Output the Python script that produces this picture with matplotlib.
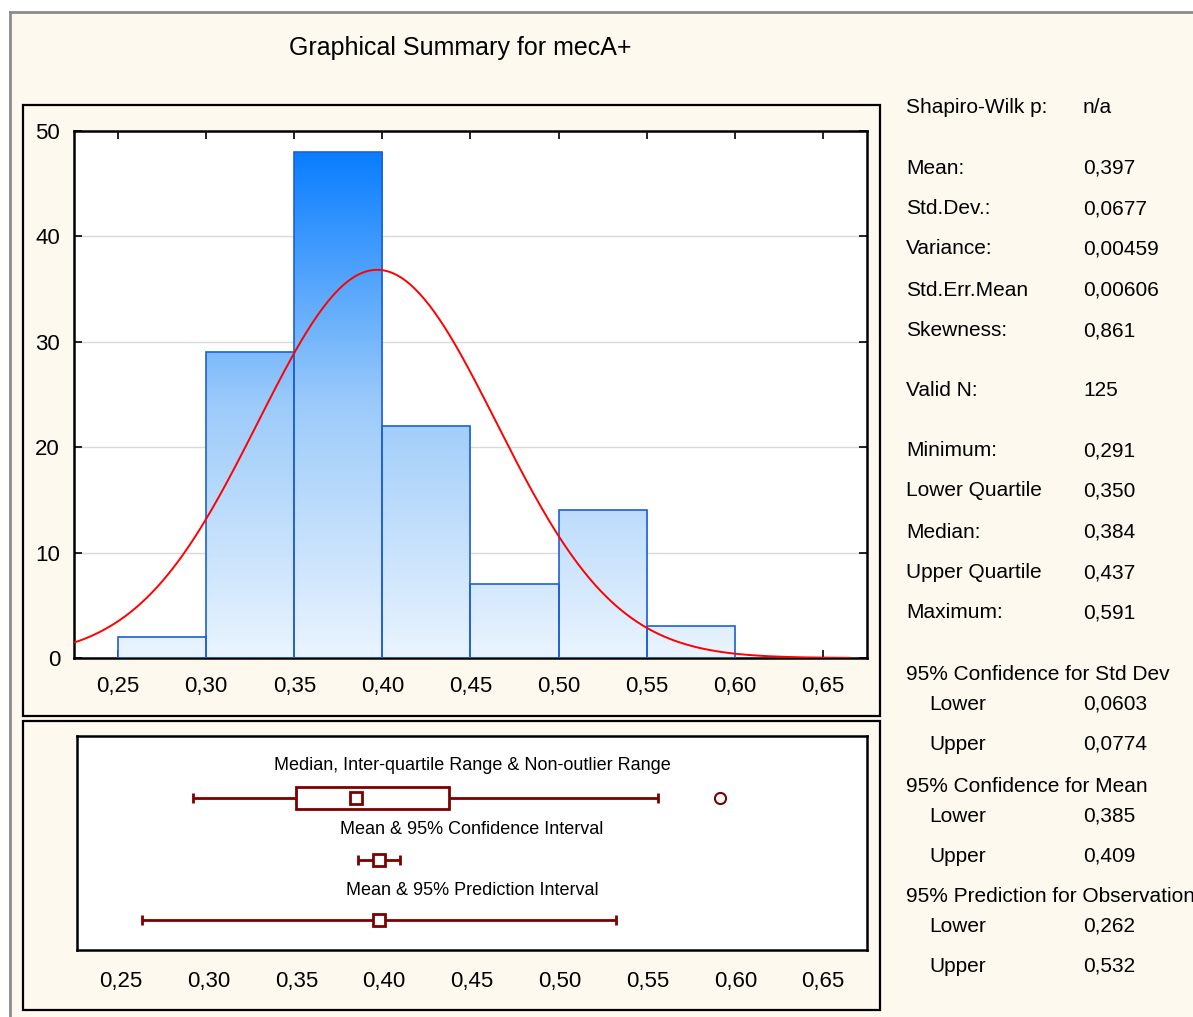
import numpy as np
import matplotlib
matplotlib.use("Agg")
import matplotlib.pyplot as plt
from matplotlib.colors import LinearSegmentedColormap
from matplotlib.patches import Rectangle
from matplotlib.lines import Line2D
from matplotlib.ticker import FuncFormatter

plt.rcParams['font.family'] = ['Liberation Sans', 'DejaVu Sans']

# histogram of mecA+ values
bin_edges = [0.25, 0.30, 0.35, 0.40, 0.45, 0.50, 0.55, 0.60]
counts = [2, 29, 48, 22, 7, 14, 3]

# descriptive statistics
n_valid = 125
mean, std_dev, variance, se_mean, skewness = 0.397, 0.0677, 0.00459, 0.00606, 0.861
minimum, q1, median, q3, maximum = 0.291, 0.350, 0.384, 0.437, 0.591
whisker_hi = 0.556          # largest non-outlier value
outliers = [0.591]
sd_ci = (0.0603, 0.0774)
mean_ci = (0.385, 0.409)
pred_int = (0.262, 0.532)

W, H = 1193, 1017
BG = '#fdf9ef'
DARKRED = '#7d0000'


def fx(px):
    return px / W


def fy(py):
    return 1 - py / H


def comma(v, nd):
    return f"{v:.{nd}f}".replace('.', ',')


fig = plt.figure(figsize=(W / 100, H / 100), dpi=100, facecolor='white')

# outer window frame
fig.patches.append(Rectangle((fx(10), 0), 1 - fx(10), fy(12), transform=fig.transFigure,
                             facecolor=BG, edgecolor='none', zorder=-3))
fig.lines.append(Line2D([fx(10), fx(10)], [0, fy(12)], transform=fig.transFigure, color='#8c8c8c', lw=2))
fig.lines.append(Line2D([fx(10), 1], [fy(12), fy(12)], transform=fig.transFigure, color='#8c8c8c', lw=2))

# panel boxes around the two plots
for top, bot in [(105, 716), (721, 1010)]:
    fig.patches.append(Rectangle((fx(23), fy(bot)), fx(880) - fx(23), fy(top) - fy(bot),
                                 transform=fig.transFigure, facecolor=BG, edgecolor='black',
                                 lw=1.6, zorder=-2))

fig.text(fx(460), fy(48), 'Graphical Summary for mecA+', ha='center', va='center', fontsize=18)

# ---- histogram ----
ax = fig.add_axes([fx(74), fy(658), fx(867) - fx(74), fy(131) - fy(658)])
ax.set_yticks(range(0, 51, 10))
ax.set_xticks(np.arange(0.25, 0.651, 0.05))
ax.yaxis.grid(True, color='#d9d9d9', lw=1)
ax.set_axisbelow(True)

cmap = LinearSegmentedColormap.from_list('bars', ['#eaf4fe', '#9ccbfa', '#0a7eff'])
top_val = max(counts)
widths = np.diff(bin_edges)
bars = ax.bar(bin_edges[:-1], counts, width=widths, align='edge', fill=False,
              edgecolor='#1f5fd9', lw=1.2, zorder=3)
for b in bars:
    x0, h, w = b.get_x(), b.get_height(), b.get_width()
    grad = np.linspace(0, h, 200).reshape(-1, 1)
    ax.imshow(grad, cmap=cmap, vmin=0, vmax=top_val, origin='lower', aspect='auto',
              extent=(x0, x0 + w, 0, h), zorder=2, interpolation='bilinear')
ax.set_xlim(0.225, 0.675)
ax.set_ylim(0, 50)

# normal curve fitted from mean and std dev
xs = np.linspace(0.225, 0.665, 300)
scale = n_valid * widths[0] / (std_dev * np.sqrt(2 * np.pi))
ax.plot(xs, scale * np.exp(-0.5 * ((xs - mean) / std_dev) ** 2), color='red', lw=1.4, zorder=4)

ax.tick_params(direction='in', top=True, right=True, length=6, width=1.2, labelsize=16)
ax.tick_params(axis='x', pad=13)
ax.tick_params(axis='y', pad=10)
ax.xaxis.set_major_formatter(FuncFormatter(lambda v, p: comma(v, 2)))
for s in ax.spines.values():
    s.set_linewidth(1.8)

# ---- box / interval plot ----
bx = fig.add_axes([fx(77), fy(950), fx(867) - fx(77), fy(736) - fy(950)])
bx.set_xlim(0.225, 0.675)
bx.set_ylim(0, 1)
bx.set_yticks([])
bx.set_xticks(np.arange(0.25, 0.651, 0.05))
bx.xaxis.set_major_formatter(FuncFormatter(lambda v, p: comma(v, 2)))
bx.tick_params(axis='x', length=0, labelsize=16, pad=15)
for s in bx.spines.values():
    s.set_linewidth(1.8)

row_box, row_ci, row_pi = 0.71, 0.42, 0.14
cap = 0.025
box_h = 0.05
lkw = dict(color=DARKRED, lw=2, solid_capstyle='butt')

# median, IQR and non-outlier range
bx.plot([minimum, q1], [row_box, row_box], **lkw)
bx.plot([q3, whisker_hi], [row_box, row_box], **lkw)
bx.plot([minimum, minimum], [row_box - cap, row_box + cap], **lkw)
bx.plot([whisker_hi, whisker_hi], [row_box - cap, row_box + cap], **lkw)
bx.add_patch(Rectangle((q1, row_box - box_h), q3 - q1, 2 * box_h, facecolor='white',
                       edgecolor=DARKRED, lw=2, zorder=3))
bx.plot([median], [row_box], marker='s', ms=8, mfc='white', mec=DARKRED, mew=2, zorder=4)
bx.plot(outliers, [row_box] * len(outliers), marker='o', ls='none', ms=8, mfc='white',
        mec=DARKRED, mew=1.5, zorder=4)

# mean with confidence and prediction intervals
for lo_hi, row in [(mean_ci, row_ci), (pred_int, row_pi)]:
    lo, hi = lo_hi
    bx.plot([lo, hi], [row, row], **lkw)
    bx.plot([lo, lo], [row - cap, row + cap], **lkw)
    bx.plot([hi, hi], [row - cap, row + cap], **lkw)
    bx.plot([mean], [row], marker='s', ms=8, mfc='white', mec=DARKRED, mew=2, zorder=4)

bx.text(0.45, 0.86, 'Median, Inter-quartile Range & Non-outlier Range', ha='center', va='center',
        fontsize=13)
bx.text(0.45, 0.565, 'Mean & 95% Confidence Interval', ha='center', va='center', fontsize=13)
bx.text(0.45, 0.28, 'Mean & 95% Prediction Interval', ha='center', va='center', fontsize=13)

# ---- statistics table ----
stat_labels = ['Shapiro-Wilk p:', 'Mean:', 'Std.Dev.:', 'Variance:', 'Std.Err.Mean', 'Skewness:',
               'Valid N:', 'Minimum:', 'Lower Quartile', 'Median:', 'Upper Quartile', 'Maximum:',
               '95% Confidence for Std Dev', 'Lower', 'Upper',
               '95% Confidence for Mean', 'Lower', 'Upper',
               '95% Prediction for Observation', 'Lower', 'Upper']
stat_values = ['n/a', comma(mean, 3), comma(std_dev, 4), comma(variance, 5), comma(se_mean, 5),
               comma(skewness, 3), str(n_valid), comma(minimum, 3), comma(q1, 3), comma(median, 3),
               comma(q3, 3), comma(maximum, 3),
               '', comma(sd_ci[0], 4), comma(sd_ci[1], 4),
               '', comma(mean_ci[0], 3), comma(mean_ci[1], 3),
               '', comma(pred_int[0], 3), comma(pred_int[1], 3)]
row_px = [108, 168, 209, 249, 290, 331, 390, 451, 491, 532, 573, 613,
          674, 704, 744, 786, 816, 856, 896, 926, 966]

for lab, val, py in zip(stat_labels, stat_values, row_px):
    indent = 929 if lab in ('Lower', 'Upper') else 906
    fig.text(fx(indent), fy(py), lab, ha='left', va='center', fontsize=15)
    if val:
        fig.text(fx(1083), fy(py), val, ha='left', va='center', fontsize=15)

fig.savefig('out.png', dpi=100, facecolor='white')
